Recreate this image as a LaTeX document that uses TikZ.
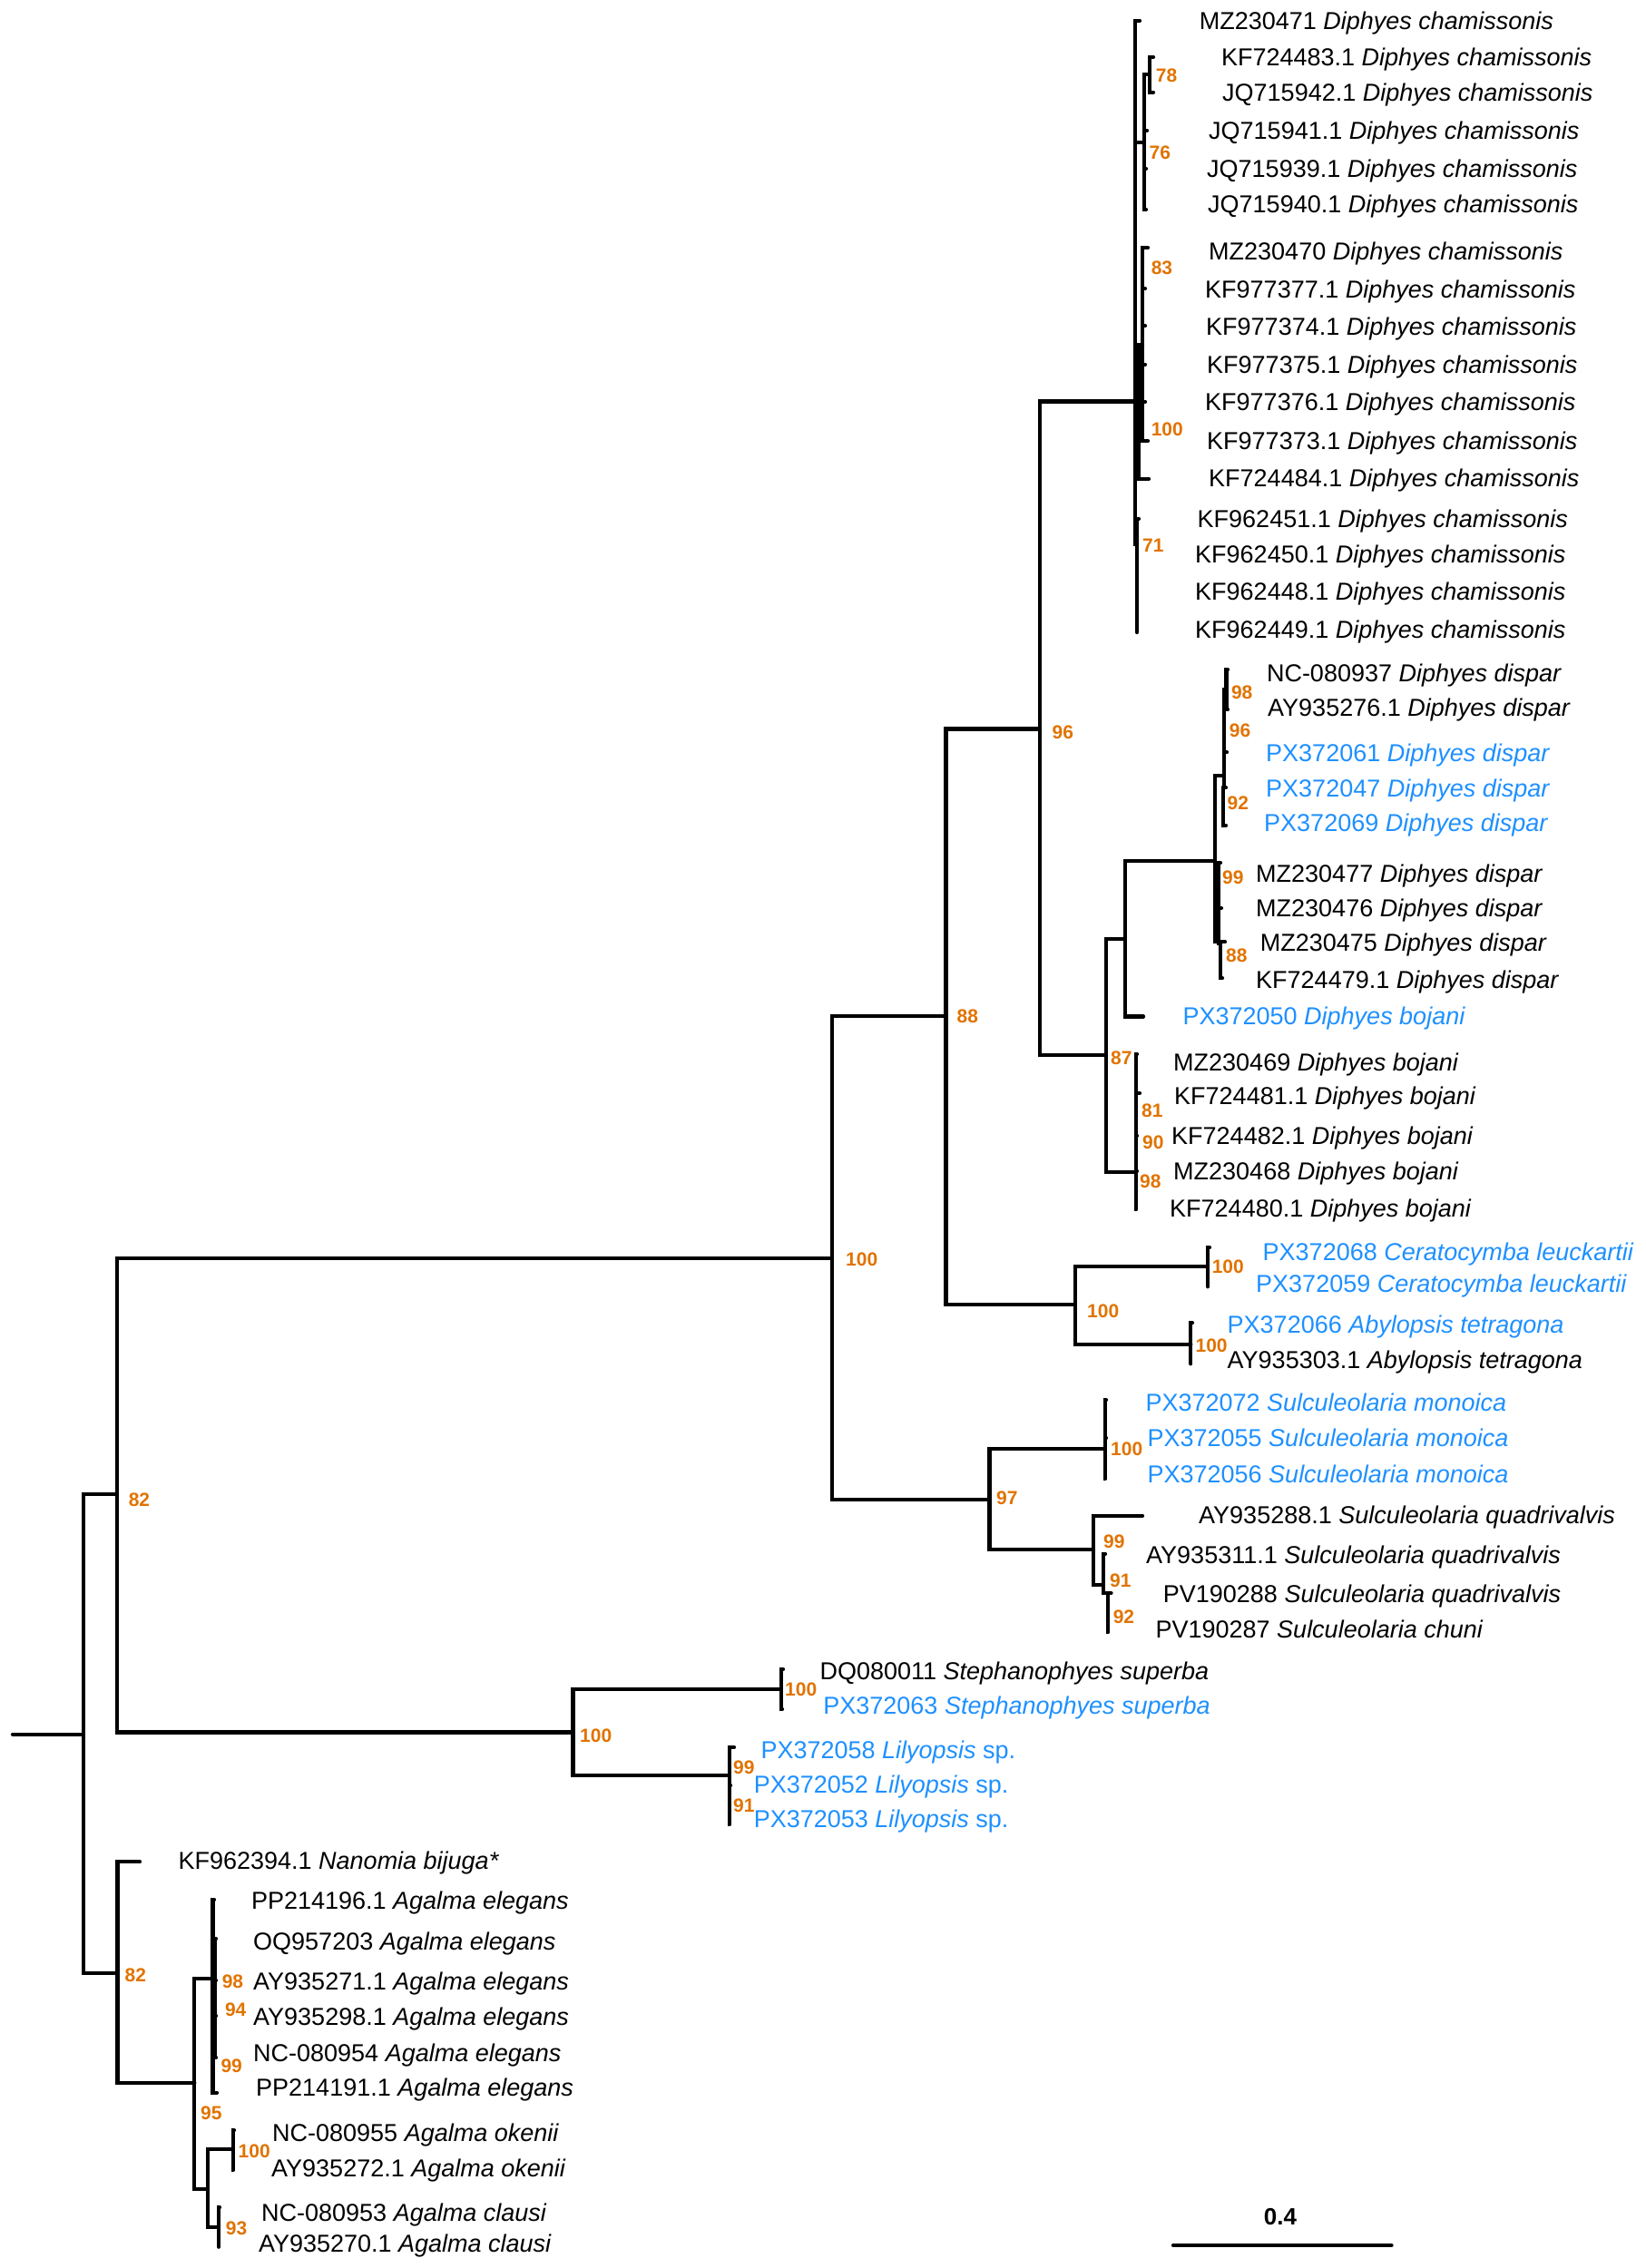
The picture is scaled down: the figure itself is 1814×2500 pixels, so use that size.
\documentclass[tikz,border=0pt]{standalone}
\usepackage{fontspec}
\setmainfont{Liberation Sans}
\definecolor{bsorange}{RGB}{225,115,0}
\definecolor{newblue}{RGB}{30,144,255}
\begin{document}
\begin{tikzpicture}[x=1pt,y=-1pt,
  br/.style={line width=4.2pt,line cap=round},
  leaf/.style={anchor=base west,inner sep=0pt,yshift=-9.7pt,font=\fontsize{27}{30}\selectfont},
  newleaf/.style={leaf,text=newblue},
  bs/.style={anchor=base west,inner sep=0pt,yshift=-7.5pt,font=\fontsize{21}{24}\selectfont\bfseries,text=bsorange}]
\useasboundingbox (0,0) rectangle (1814,2500);
% ---------- internal nodes ----------
\coordinate (root0) at (14,1911.6);
\coordinate (R) at (92,1911.6);
\coordinate (N82a) at (128.6,1647.3);
\coordinate (N82b) at (129.5,2175);
\coordinate (N100a) at (916.8,1387);
\coordinate (N100c) at (631.4,1909.4);
\coordinate (N88) at (1042.4,1119.7);
\coordinate (N97) at (1090.5,1652.7);
\coordinate (N96) at (1146,803.4);
\coordinate (N100b) at (1184.8,1438.2);
\coordinate (Ncham) at (1251,442.5);
\coordinate (Nc76) at (1261,157);
\coordinate (Nc78) at (1267,82);
\coordinate (Nc100) at (1255,443);
\coordinate (Nc83) at (1259,380);
\coordinate (Nc71) at (1253,600);
\coordinate (N87) at (1219,1163);
\coordinate (Ndis) at (1239.7,1035);
\coordinate (Ndispar) at (1338.6,948.6);
\coordinate (Nd96) at (1349,855);
\coordinate (Nd98) at (1351.5,760);
\coordinate (Nd92) at (1348,868);
\coordinate (Nd99) at (1343,1038);
\coordinate (Nd88) at (1345,1040);
\coordinate (Nboj) at (1251.8,1292.3);
\coordinate (Ncer) at (1331,1396);
\coordinate (Naby) at (1312.3,1481.7);
\coordinate (Nmon) at (1217.8,1597);
\coordinate (Nquad) at (1205,1708.3);
\coordinate (Nq91) at (1216,1746.7);
\coordinate (Nq92) at (1220.7,1756);
\coordinate (Nsteph) at (861,1861.7);
\coordinate (Nlily) at (803.6,1957);
\coordinate (N95) at (214.3,2296);
\coordinate (Neleg) at (234.4,2180.7);
\coordinate (Ne2) at (236.6,2200);
\coordinate (Nokcl) at (228.6,2412.7);
\coordinate (Nok) at (256.7,2369.3);
\coordinate (Ncl) at (241,2455);
% ---------- leaf tips ----------
\coordinate (t1) at (1256,22.7);
\coordinate (t2) at (1271,62.7);
\coordinate (t3) at (1271,101.7);
\coordinate (t4) at (1264,144);
\coordinate (t5) at (1263,186);
\coordinate (t6) at (1263,231);
\coordinate (t7) at (1265,273);
\coordinate (t8) at (1262,318.3);
\coordinate (t9) at (1262,359.3);
\coordinate (t10) at (1262,401.7);
\coordinate (t11) at (1262,442.7);
\coordinate (t12) at (1265,486);
\coordinate (t13) at (1266,527.7);
\coordinate (t14) at (1255,571.7);
\coordinate (t15) at (1253,610.7);
\coordinate (t16) at (1253,651.7);
\coordinate (t17) at (1253,697);
\coordinate (t18) at (1353,738);
\coordinate (t19) at (1353,782);
\coordinate (t20) at (1352,829.3);
\coordinate (t21) at (1351,868.3);
\coordinate (t22) at (1351,910);
\coordinate (t23) at (1345,951);
\coordinate (t24) at (1346,1001);
\coordinate (t25) at (1350,1038.3);
\coordinate (t26) at (1347,1078.3);
\coordinate (t27) at (1260,1120.5);
\coordinate (t28) at (1253,1161.7);
\coordinate (t29) at (1256,1205);
\coordinate (t30) at (1253,1251.7);
\coordinate (t31) at (1253,1290.7);
\coordinate (t32) at (1252,1333.3);
\coordinate (t33) at (1333,1375);
\coordinate (t34) at (1331,1418.3);
\coordinate (t35) at (1314,1458.3);
\coordinate (t36) at (1312.3,1503.3);
\coordinate (t37) at (1219,1543.3);
\coordinate (t38) at (1219,1585);
\coordinate (t39) at (1218,1630);
\coordinate (t40) at (1259,1670.7);
\coordinate (t41) at (1218,1712.7);
\coordinate (t42) at (1224.5,1756);
\coordinate (t43) at (1221,1799.3);
\coordinate (t44) at (863,1840);
\coordinate (t45) at (862,1884);
\coordinate (t46) at (809,1926);
\coordinate (t47) at (805,1968);
\coordinate (t48) at (804,2010.7);
\coordinate (t49) at (154,2052.3);
\coordinate (t50) at (236,2094);
\coordinate (t51) at (238,2137);
\coordinate (t52) at (238,2183);
\coordinate (t53) at (238,2222);
\coordinate (t54) at (238,2268);
\coordinate (t55) at (239,2306.7);
\coordinate (t56) at (258,2348.3);
\coordinate (t57) at (257,2391.7);
\coordinate (t58) at (242,2433.3);
\coordinate (t59) at (241,2476.7);
% ---------- branches ----------
\draw[br] (root0) -- (R);
\draw[br] (R) |- (N82a); \draw[br] (R) |- (N82b);
\draw[br] (N82a) |- (N100a); \draw[br] (N82a) |- (N100c);
\draw[br] (N100a) |- (N88); \draw[br] (N100a) |- (N97);
\draw[br] (N88) |- (N96); \draw[br] (N88) |- (N100b);
\draw[br] (N96) |- (Ncham); \draw[br] (N96) |- (N87);
\draw[br] (Ncham) |- (t1); \draw[br] (Ncham) |- (Nc76); \draw[br] (Ncham) |- (Nc100); \draw[br] (Ncham) |- (Nc71);
\draw[br] (Nc76) |- (Nc78); \draw[br] (Nc76) |- (t4); \draw[br] (Nc76) |- (t5); \draw[br] (Nc76) |- (t6);
\draw[br] (Nc78) |- (t2); \draw[br] (Nc78) |- (t3);
\draw[br] (Nc100) |- (Nc83); \draw[br] (Nc100) |- (t13);
\foreach \t in {t7,t8,t9,t10,t11,t12} {\draw[br] (Nc83) |- (\t);}
\foreach \t in {t14,t15,t16,t17} {\draw[br] (Nc71) |- (\t);}
\draw[br] (N87) |- (Ndis); \draw[br] (N87) |- (Nboj);
\draw[br] (Ndis) |- (Ndispar); \draw[br] (Ndis) |- (t27);
\draw[br] (Ndispar) |- (Nd96); \draw[br] (Ndispar) |- (Nd99);
\draw[br] (Nd96) |- (Nd98); \draw[br] (Nd96) |- (t20); \draw[br] (Nd96) |- (Nd92);
\draw[br] (Nd98) |- (t18); \draw[br] (Nd98) |- (t19);
\draw[br] (Nd92) |- (t21); \draw[br] (Nd92) |- (t22);
\draw[br] (Nd99) |- (t23); \draw[br] (Nd99) |- (t24); \draw[br] (Nd99) |- (Nd88);
\draw[br] (Nd88) |- (t25); \draw[br] (Nd88) |- (t26);
\foreach \t in {t28,t29,t30,t31,t32} {\draw[br] (Nboj) |- (\t);}
\draw[br] (N100b) |- (Ncer); \draw[br] (N100b) |- (Naby);
\draw[br] (Ncer) |- (t33); \draw[br] (Ncer) |- (t34);
\draw[br] (Naby) |- (t35); \draw[br] (Naby) |- (t36);
\draw[br] (N97) |- (Nmon); \draw[br] (N97) |- (Nquad);
\foreach \t in {t37,t38,t39} {\draw[br] (Nmon) |- (\t);}
\draw[br] (Nquad) |- (t40); \draw[br] (Nquad) |- (Nq91);
\draw[br] (Nq91) |- (t41); \draw[br] (Nq91) |- (Nq92);
\draw[br] (Nq92) |- (t42); \draw[br] (Nq92) |- (t43);
\draw[br] (N100c) |- (Nsteph); \draw[br] (N100c) |- (Nlily);
\draw[br] (Nsteph) |- (t44); \draw[br] (Nsteph) |- (t45);
\foreach \t in {t46,t47,t48} {\draw[br] (Nlily) |- (\t);}
\draw[br] (N82b) |- (t49); \draw[br] (N82b) |- (N95);
\draw[br] (N95) |- (Neleg); \draw[br] (N95) |- (Nokcl);
\draw[br] (Neleg) |- (t50); \draw[br] (Neleg) |- (Ne2); \draw[br] (Neleg) |- (t55);
\foreach \t in {t51,t52,t53,t54} {\draw[br] (Ne2) |- (\t);}
\draw[br] (Nokcl) |- (Nok); \draw[br] (Nokcl) |- (Ncl);
\draw[br] (Nok) |- (t56); \draw[br] (Nok) |- (t57);
\draw[br] (Ncl) |- (t58); \draw[br] (Ncl) |- (t59);
% ---------- leaf labels ----------
\node[leaf] (l1) at (1321.6,22.7) {MZ230471 \textit{Diphyes chamissonis}};
\node[leaf] (l2) at (1345.8,62.7) {KF724483.1 \textit{Diphyes chamissonis}};
\node[leaf] (l3) at (1347,101.7) {JQ715942.1 \textit{Diphyes chamissonis}};
\node[leaf] (l4) at (1332,144) {JQ715941.1 \textit{Diphyes chamissonis}};
\node[leaf] (l5) at (1330,185.7) {JQ715939.1 \textit{Diphyes chamissonis}};
\node[leaf] (l6) at (1331,225) {JQ715940.1 \textit{Diphyes chamissonis}};
\node[leaf] (l7) at (1332,276.7) {MZ230470 \textit{Diphyes chamissonis}};
\node[leaf] (l8) at (1328,318.3) {KF977377.1 \textit{Diphyes chamissonis}};
\node[leaf] (l9) at (1329,359.3) {KF977374.1 \textit{Diphyes chamissonis}};
\node[leaf] (l10) at (1330,401.7) {KF977375.1 \textit{Diphyes chamissonis}};
\node[leaf] (l11) at (1328,442.7) {KF977376.1 \textit{Diphyes chamissonis}};
\node[leaf] (l12) at (1330,486) {KF977373.1 \textit{Diphyes chamissonis}};
\node[leaf] (l13) at (1332,526.7) {KF724484.1 \textit{Diphyes chamissonis}};
\node[leaf] (l14) at (1319.5,571.7) {KF962451.1 \textit{Diphyes chamissonis}};
\node[leaf] (l15) at (1317,610.7) {KF962450.1 \textit{Diphyes chamissonis}};
\node[leaf] (l16) at (1317,651.7) {KF962448.1 \textit{Diphyes chamissonis}};
\node[leaf] (l17) at (1317,693.3) {KF962449.1 \textit{Diphyes chamissonis}};
\node[leaf] (l18) at (1395.8,741.7) {NC-080937 \textit{Diphyes dispar}};
\node[leaf] (l19) at (1397,780) {AY935276.1 \textit{Diphyes dispar}};
\node[newleaf] (l20) at (1395,829.3) {PX372061 \textit{Diphyes dispar}};
\node[newleaf] (l21) at (1395,868.3) {PX372047 \textit{Diphyes dispar}};
\node[newleaf] (l22) at (1393,906.7) {PX372069 \textit{Diphyes dispar}};
\node[leaf] (l23) at (1384,962.7) {MZ230477 \textit{Diphyes dispar}};
\node[leaf] (l24) at (1384,1001) {MZ230476 \textit{Diphyes dispar}};
\node[leaf] (l25) at (1388.6,1038.3) {MZ230475 \textit{Diphyes dispar}};
\node[leaf] (l26) at (1384,1080) {KF724479.1 \textit{Diphyes dispar}};
\node[newleaf] (l27) at (1303.4,1120) {PX372050 \textit{Diphyes bojani}};
\node[leaf] (l28) at (1293,1170.7) {MZ230469 \textit{Diphyes bojani}};
\node[leaf] (l29) at (1294,1207.3) {KF724481.1 \textit{Diphyes bojani}};
\node[leaf] (l30) at (1291,1251.7) {KF724482.1 \textit{Diphyes bojani}};
\node[leaf] (l31) at (1293,1290.7) {MZ230468 \textit{Diphyes bojani}};
\node[leaf] (l32) at (1289,1331.7) {KF724480.1 \textit{Diphyes bojani}};
\node[newleaf] (l33) at (1391.5,1379.3) {PX372068 \textit{Ceratocymba leuckartii}};
\node[newleaf] (l34) at (1384,1415) {PX372059 \textit{Ceratocymba leuckartii}};
\node[newleaf] (l35) at (1352.5,1459.3) {PX372066 \textit{Abylopsis tetragona}};
\node[leaf] (l36) at (1352.5,1498.3) {AY935303.1 \textit{Abylopsis tetragona}};
\node[newleaf] (l37) at (1262.3,1545.7) {PX372072 \textit{Sulculeolaria monoica}};
\node[newleaf] (l38) at (1264.4,1585) {PX372055 \textit{Sulculeolaria monoica}};
\node[newleaf] (l39) at (1264.4,1625) {PX372056 \textit{Sulculeolaria monoica}};
\node[leaf] (l40) at (1321,1670) {AY935288.1 \textit{Sulculeolaria quadrivalvis}};
\node[leaf] (l41) at (1263,1713.5) {AY935311.1 \textit{Sulculeolaria quadrivalvis}};
\node[leaf] (l42) at (1281.7,1756.7) {PV190288 \textit{Sulculeolaria quadrivalvis}};
\node[leaf] (l43) at (1273.4,1796) {PV190287 \textit{Sulculeolaria chuni}};
\node[leaf] (l44) at (903.3,1841.7) {DQ080011 \textit{Stephanophyes superba}};
\node[newleaf] (l45) at (907.2,1880) {PX372063 \textit{Stephanophyes superba}};
\node[newleaf] (l46) at (838.3,1928.3) {PX372058 \textit{Lilyopsis} sp.};
\node[newleaf] (l47) at (830.6,1966.7) {PX372052 \textit{Lilyopsis} sp.};
\node[newleaf] (l48) at (830.6,2005) {PX372053 \textit{Lilyopsis} sp.};
\node[leaf] (l49) at (196.4,2050.7) {KF962394.1 \textit{Nanomia bijuga*}};
\node[leaf] (l50) at (276.8,2095) {PP214196.1 \textit{Agalma elegans}};
\node[leaf] (l51) at (279,2140) {OQ957203 \textit{Agalma elegans}};
\node[leaf] (l52) at (279,2183.3) {AY935271.1 \textit{Agalma elegans}};
\node[leaf] (l53) at (279,2222.7) {AY935298.1 \textit{Agalma elegans}};
\node[leaf] (l54) at (279,2262.7) {NC-080954 \textit{Agalma elegans}};
\node[leaf] (l55) at (282,2300.7) {PP214191.1 \textit{Agalma elegans}};
\node[leaf] (l56) at (300,2350.7) {NC-080955 \textit{Agalma okenii}};
\node[leaf] (l57) at (299,2389.3) {AY935272.1 \textit{Agalma okenii}};
\node[leaf] (l58) at (288,2438.3) {NC-080953 \textit{Agalma clausi}};
\node[leaf] (l59) at (284.8,2472.7) {AY935270.1 \textit{Agalma clausi}};
% ---------- bootstrap values ----------
\node[bs] (b1) at (1273.7,83.3) {78};
\node[bs] (b2) at (1266.5,168.3) {76};
\node[bs] (b3) at (1268.6,295) {83};
\node[bs] (b4) at (1268.6,473) {100};
\node[bs] (b5) at (1259,600.7) {71};
\node[bs] (b6) at (1159.4,807) {96};
\node[bs] (b7) at (1356.8,763) {98};
\node[bs] (b8) at (1354.7,805) {96};
\node[bs] (b9) at (1352.5,885) {92};
\node[bs] (b10) at (1347,966.7) {99};
\node[bs] (b11) at (1351,1053) {88};
\node[bs] (b12) at (1224,1166) {87};
\node[bs] (b13) at (1258,1224) {81};
\node[bs] (b14) at (1259,1259) {90};
\node[bs] (b15) at (1256,1301.7) {98};
\node[bs] (b16) at (1054.5,1119.8) {88};
\node[bs] (b17) at (1335.6,1396) {100};
\node[bs] (b18) at (1198,1445) {100};
\node[bs] (b19) at (1317.4,1482.7) {100};
\node[bs] (b20) at (932,1388) {100};
\node[bs] (b21) at (1224,1597) {100};
\node[bs] (b22) at (1098,1651) {97};
\node[bs] (b23) at (1216,1699) {99};
\node[bs] (b24) at (1223,1742) {91};
\node[bs] (b25) at (1226.6,1782) {92};
\node[bs] (b26) at (141.6,1653) {82};
\node[bs] (b27) at (865,1862) {100};
\node[bs] (b28) at (639,1913) {100};
\node[bs] (b29) at (808,1948) {99};
\node[bs] (b30) at (808,1990) {91};
\node[bs] (b31) at (137.5,2177) {82};
\node[bs] (b32) at (244.6,2184) {98};
\node[bs] (b33) at (247.8,2215) {94};
\node[bs] (b34) at (243.3,2277) {99};
\node[bs] (b35) at (221,2329) {95};
\node[bs] (b36) at (262.5,2371) {100};
\node[bs] (b37) at (248.7,2456) {93};
% ---------- scale bar ----------
\coordinate (sb0) at (1293,2475);
\coordinate (sb1) at (1533.5,2475);
\draw[line width=4.2pt,line cap=round] (sb0) -- (sb1);
\node[inner sep=0pt,font=\fontsize{26}{28}\selectfont\bfseries] (sblab) at (1411,2444) {0.4};
\end{tikzpicture}
\end{document}
